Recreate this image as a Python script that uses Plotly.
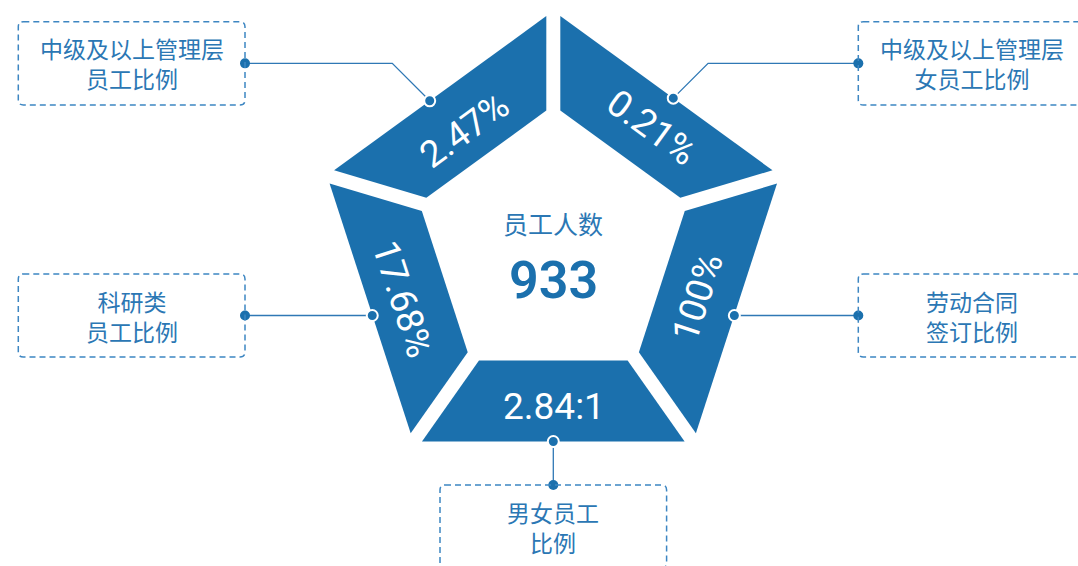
import math

import plotly.graph_objects as go

# ---- data ----
center_label = "员工人数"
center_value = 933

# segments in clockwise order starting from the top vertex
segment_values = ["0.21%", "100%", "2.84:1", "17.68%", "2.47%"]
segment_names = [
    "中级及以上管理层<br>女员工比例",
    "劳动合同<br>签订比例",
    "男女员工<br>比例",
    "科研类<br>员工比例",
    "中级及以上管理层<br>员工比例",
]

# ---- styling / geometry ----
BLUE = "#1b70ad"
TEXT_BLUE = "#2b77b4"
LINE_BLUE = "#2f78b5"
DASH_BLUE = "#3d86c2"
W, H = 1078, 566
CX = 553.3
OUT_CY, OUT_R = 249.0, 238.0
IN_CY, IN_R = 246.5, 141.0
GAP = 14.0

NUM_FONT = "Roboto, DejaVu Sans, sans-serif"
CJK_FONT = "Noto Sans CJK SC, sans-serif"


def vertex(cy, r, k):
    a = math.radians(72 * k)
    return (CX + r * math.sin(a), cy - r * math.cos(a))


def intersect(p1, d1, p2, d2):
    det = d1[0] * (-d2[1]) - d1[1] * (-d2[0])
    bx, by = p2[0] - p1[0], p2[1] - p1[1]
    t = (bx * (-d2[1]) - by * (-d2[0])) / det
    return (p1[0] + t * d1[0], p1[1] + t * d1[1])


def shifted_cut(k, toward):
    o, i = vertex(OUT_CY, OUT_R, k), vertex(IN_CY, IN_R, k)
    d = (o[0] - i[0], o[1] - i[1])
    ln = math.hypot(*d)
    n = (-d[1] / ln, d[0] / ln)
    if (toward[0] - o[0]) * n[0] + (toward[1] - o[1]) * n[1] < 0:
        n = (-n[0], -n[1])
    return (o[0] + n[0] * GAP / 2, o[1] + n[1] * GAP / 2), d


fig = go.Figure()

for k in range(5):
    o1, o2 = vertex(OUT_CY, OUT_R, k), vertex(OUT_CY, OUT_R, k + 1)
    i1, i2 = vertex(IN_CY, IN_R, k), vertex(IN_CY, IN_R, k + 1)
    mid = ((o1[0] + o2[0] + i1[0] + i2[0]) / 4, (o1[1] + o2[1] + i1[1] + i2[1]) / 4)
    c1 = shifted_cut(k, mid)
    c2 = shifted_cut(k + 1, mid)
    od = (o2[0] - o1[0], o2[1] - o1[1])
    idr = (i2[0] - i1[0], i2[1] - i1[1])
    pts = [
        intersect(o1, od, *c1),
        intersect(o1, od, *c2),
        intersect(i1, idr, *c2),
        intersect(i1, idr, *c1),
    ]
    fig.add_trace(go.Scatter(
        x=[p[0] for p in pts] + [pts[0][0]],
        y=[p[1] for p in pts] + [pts[0][1]],
        mode="lines", fill="toself", fillcolor=BLUE,
        line=dict(width=0, color=BLUE), hoverinfo="skip",
    ))

# value labels on the segments
label_pos = [(651.5, 127.5), (697.5, 297.5), (554, 406), (403, 299), (464, 130.5)]
label_angle = [36, -72, 0, 72, -36]
for k, txt in enumerate(segment_values):
    fig.add_annotation(
        x=label_pos[k][0], y=label_pos[k][1], text=txt, textangle=label_angle[k],
        showarrow=False, xanchor="center", yanchor="middle",
        font=dict(family=NUM_FONT, size=37, color="white"),
    )

# centre text
fig.add_annotation(x=CX, y=223, text=center_label, showarrow=False,
                   font=dict(family=CJK_FONT, size=25, color=TEXT_BLUE))
fig.add_annotation(x=CX, y=280, text=str(center_value), showarrow=False,
                   font=dict(family=NUM_FONT, size=52, color=BLUE, weight=600))

# callout boxes: (x0, y0, x1, y1)
boxes = [
    (858.3, 21.7, 1085.3, 105.0),
    (858.3, 274.0, 1085.3, 357.0),
    (440.0, 485.0, 666.6, 568.0),
    (18.3, 274.0, 245.0, 357.0),
    (18.3, 21.7, 245.0, 105.0),
]
edge_t = [0.53, 0.524, 0.5, 0.476, 0.454]


def rounded_rect(x0, y0, x1, y1, r=5):
    return (f"M{x0 + r},{y0} L{x1 - r},{y0} Q{x1},{y0} {x1},{y0 + r} "
            f"L{x1},{y1 - r} Q{x1},{y1} {x1 - r},{y1} L{x0 + r},{y1} "
            f"Q{x0},{y1} {x0},{y1 - r} L{x0},{y0 + r} Q{x0},{y0} {x0 + r},{y0} Z")


for k, name in enumerate(segment_names):
    x0, y0, x1, y1 = boxes[k]
    fig.add_shape(type="path", path=rounded_rect(x0, y0, x1, y1), xref="x", yref="y",
                  line=dict(color=DASH_BLUE, width=1.5, dash="6px,4px"))
    fig.add_annotation(x=(x0 + x1) / 2, y=(y0 + y1) / 2, text=name, showarrow=False,
                       xanchor="center", yanchor="middle",
                       font=dict(family=CJK_FONT, size=23, color=TEXT_BLUE))

    o1, o2 = vertex(OUT_CY, OUT_R, k), vertex(OUT_CY, OUT_R, k + 1)
    t = edge_t[k]
    seg_dot = (o1[0] + (o2[0] - o1[0]) * t, o1[1] + (o2[1] - o1[1]) * t)
    by = (y0 + y1) / 2
    if k == 2:
        box_dot = (seg_dot[0], y0)
        path = [seg_dot, box_dot]
    else:
        bx = x0 if seg_dot[0] < x0 else x1
        box_dot = (bx, by)
        dy = seg_dot[1] - by
        if abs(dy) > 1:
            elbow = (seg_dot[0] + (dy if bx > seg_dot[0] else -dy), by)
            path = [box_dot, elbow, seg_dot]
        else:
            path = [box_dot, (seg_dot[0], by)]
            seg_dot = (seg_dot[0], by)
    fig.add_trace(go.Scatter(
        x=[p[0] for p in path], y=[p[1] for p in path], mode="lines",
        line=dict(color=LINE_BLUE, width=1.3), hoverinfo="skip",
    ))
    fig.add_trace(go.Scatter(
        x=[box_dot[0]], y=[box_dot[1]], mode="markers",
        marker=dict(size=10, color=BLUE), hoverinfo="skip",
    ))
    fig.add_trace(go.Scatter(
        x=[seg_dot[0]], y=[seg_dot[1]], mode="markers",
        marker=dict(size=11, color=BLUE, line=dict(color="white", width=2)),
        hoverinfo="skip",
    ))

fig.update_layout(
    width=W,
    height=H,
    margin=dict(l=0, r=0, t=0, b=0),
    paper_bgcolor="white",
    plot_bgcolor="white",
    showlegend=False,
    xaxis=dict(range=[0, W], visible=False, fixedrange=True),
    yaxis=dict(range=[H, 0], visible=False, fixedrange=True),
)

# the page body has a default 8px margin; drop it so the figure fills the window
fig.write_html("out.html", config=dict(displayModeBar=False),
               post_script="document.body.style.margin='0';document.body.style.overflow='hidden';")
